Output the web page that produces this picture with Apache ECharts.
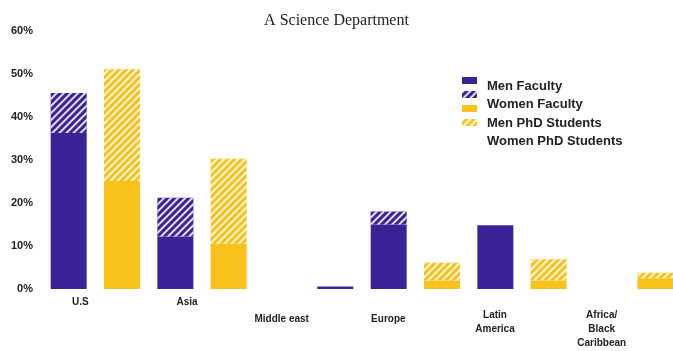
<!DOCTYPE html>
<html>
<head>
<meta charset="utf-8">
<script src="https://cdn.jsdelivr.net/npm/echarts@6/dist/echarts.min.js"></script>
<style>html,body{margin:0;padding:0;background:#fff}#c{width:673px;height:351px}</style>
</head>
<body>
<div id="c"></div>
<script>
// ---- data ----
var categories = ['U.S', 'Asia', 'Middle east', 'Europe', 'Latin\nAmerica', 'Africa/\nBlack\nCaribbean'];
var menFaculty   = [36.3, 12.2, 0,   15.0, 14.8, 0];
var menPhD       = [9.3,  9.0,  0,   3.0,  0,    0];
var womenFaculty = [25.1, 10.5, 0.6, 2.0,  2.0,  2.5];
var womenPhD     = [26.0, 19.8, 0,   4.1,  4.9,  1.3];
var yTicks = [0, 10, 20, 30, 40, 50, 60];
var legendText = ['Men Faculty', 'Women Faculty', 'Men PhD Students', 'Women PhD Students'];

// ---- styles ----
var PURPLE = '#3a2397';
var YELLOW = '#f8c11b';
var FONT = '"Liberation Sans Narrow", "Liberation Sans", sans-serif';
function hatch() {
  return { symbol: 'rect', symbolSize: 1, dashArrayX: [1, 0], dashArrayY: [2, 2.4],
           rotation: -Math.PI / 4, color: 'rgba(255,255,255,0.85)' };
}
// The Middle east sliver is drawn purple in the reference.
var womenFacultyData = womenFaculty.map(function (v, i) {
  return i === 2 ? { value: v, itemStyle: { color: PURPLE } } : v;
});

var chart = echarts.init(document.getElementById('c'));
chart.setOption({
  animation: false,
  backgroundColor: '#fff',
  title: {
    text: 'A Science Department', left: 'center', top: 8,
    textStyle: { fontFamily: '"Liberation Serif", serif', fontSize: 16, fontWeight: 'normal', color: '#222' }
  },
  legend: [{
    // icons
    orient: 'vertical', left: 462, top: 77, padding: 0, icon: 'rect',
    itemWidth: 15, itemHeight: 7, itemGap: 7,
    data: ['Men Faculty', 'Men PhD Students', 'Women Faculty', 'Women PhD Students'],
    formatter: function () { return ''; },
    textStyle: { fontSize: 1 }
  }, {
    // texts
    orient: 'vertical', left: 482, top: 79, padding: 0, itemWidth: 0, itemHeight: 0, itemGap: 4.5,
    icon: 'rect', itemStyle: { opacity: 0 },
    data: legendText,
    textStyle: { fontFamily: FONT, fontSize: 13, fontWeight: 'bold', color: '#222', lineHeight: 14 }
  }],
  grid: { left: 42, width: 640, top: 31, bottom: 62, outerBoundsMode: 'none', containLabel: false },
  xAxis: {
    type: 'category', data: categories,
    axisLine: { show: false }, axisTick: { show: false },
    axisLabel: {
      interval: 0, margin: 6, color: '#222',
      formatter: function (v, i) {
        var lines = v.split('\n');
        var tag = i < 2 ? 'a' : 'b';
        var out = lines.map(function (l) { return '{' + tag + '|' + l + '}'; });
        if (i >= 2) out.unshift(lines.length > 1 ? '{s1| }' : '{s2| }');
        return out.join('\n');
      },
      rich: {
        a: { fontFamily: FONT, fontSize: 10, fontWeight: 'bold', color: '#222', lineHeight: 14, padding: [0, 30, 0, 0] },
        b: { fontFamily: FONT, fontSize: 10, fontWeight: 'bold', color: '#222', lineHeight: 14, padding: [0, 54, 0, 0] },
        s1: { fontSize: 2, lineHeight: 13 },
        s2: { fontSize: 2, lineHeight: 17 }
      }
    }
  },
  yAxis: {
    type: 'value', min: yTicks[0], max: yTicks[yTicks.length - 1], interval: 10,
    splitLine: { show: false }, axisLine: { show: false }, axisTick: { show: false },
    axisLabel: {
      margin: 9, formatter: '{value}%',
      fontFamily: FONT, fontSize: 11, fontWeight: 'bold', color: '#222'
    }
  },
  series: [
    { name: 'Men Faculty', type: 'bar', stack: 'men', data: menFaculty, barWidth: 36, barGap: '48%',
      itemStyle: { color: PURPLE } },
    { name: 'Men PhD Students', type: 'bar', stack: 'men', data: menPhD, barWidth: 36, barGap: '48%',
      itemStyle: { color: PURPLE, decal: hatch() } },
    { name: 'Women Faculty', type: 'bar', stack: 'women', data: womenFacultyData, barWidth: 36, barGap: '48%',
      itemStyle: { color: YELLOW } },
    { name: 'Women PhD Students', type: 'bar', stack: 'women', data: womenPhD, barWidth: 36, barGap: '48%',
      itemStyle: { color: YELLOW, decal: hatch() } }
  ]
});
</script>
</body>
</html>
